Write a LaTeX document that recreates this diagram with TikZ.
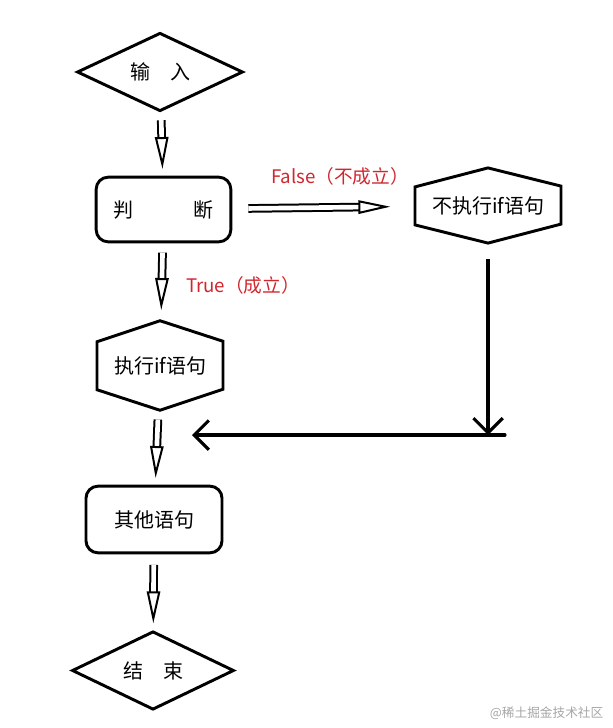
\documentclass[tikz,border=0pt]{standalone}
\usepackage{fontspec}
\setmainfont{Noto Sans CJK SC}
\usetikzlibrary{shapes.geometric,arrows.meta}
\definecolor{lblred}{HTML}{D0262E}
\begin{document}
\begin{tikzpicture}[x=0.75pt,y=-0.75pt,
  every node/.style={font=\fontsize{15}{17}\selectfont},
  thick line/.style={line width=2.2pt},
  dia/.style={diamond,draw,thick line,inner sep=0pt},
  box/.style={rectangle,draw,thick line,rounded corners=9pt,inner sep=0pt},
  ghost/.style={rectangle,inner sep=0pt},
  darr/.style={line width=1.5pt,double distance=3.5pt,-{Triangle[open,length=24pt,width=10pt,line width=1.5pt,fill=white]}},
  varr/.style={line width=2.3pt,-{Straight Barb[length=11pt,width=22pt]}},
  lbl/.style={text=lblred,font=\fontsize{14}{16}\selectfont}]
\useasboundingbox (0,0) rectangle (613,728);
% nodes
\node[dia,minimum width=124.5pt,minimum height=48pt] (in) at (160,72) {输\hspace{1em}入};
\node[box,minimum width=101pt,minimum height=48.5pt] (judge) at (163.5,209.5) {判\hspace{3em}断};
\node[ghost,minimum width=110pt,minimum height=56pt] (no) at (488,205.5) {不执行if语句};
\node[ghost,minimum width=97.5pt,minimum height=66.75pt] (yes) at (160,365.5) {执行if语句};
\node[box,minimum width=102pt,minimum height=50pt] (other) at (154,519.5) {其他语句};
\node[dia,minimum width=121.5pt,minimum height=56pt] (end) at (153,670.5) {结\hspace{1em}束};
\node[text=gray!70,font=\fontsize{9.5}{11}\selectfont,anchor=east] (wm) at (608,713) {@稀土掘金技术社区};
% hexagons
\draw[thick line] (no.north) -- ++(-73,19) -- ++(0,38) -- (no.south) -- ++(73,-19) -- ++(0,-38) -- cycle;
\draw[thick line] (yes.north) -- ++(-63,21) -- ++(0,48) -- (yes.south) -- ++(63,-21) -- ++(0,-48) -- cycle;
% connectors
\draw[darr,shorten <=6pt,shorten >=5pt] (in) -- (judge);
\draw[darr,shorten <=12pt,shorten >=18pt] (judge) -- (no);
\draw[darr,shorten <=7pt,shorten >=8pt] (judge) -- (yes);
\draw[darr,shorten <=7pt,shorten >=5pt] (yes) -- (other);
\draw[darr,shorten <=8pt,shorten >=5pt] (other) -- (end);
\coordinate (c1) at (488,435);
\coordinate (c2) at (505,435);
\coordinate (c3) at (192,435);
\draw[varr,shorten <=12pt] (no) -- (c1);
\draw[varr,line cap=round] (c2) -- (c3);
% labels
\node[lbl] (lf) at (340,176) {False（不成立）};
\node[lbl] (lt) at (243,285) {True（成立）};
\end{tikzpicture}
\end{document}
